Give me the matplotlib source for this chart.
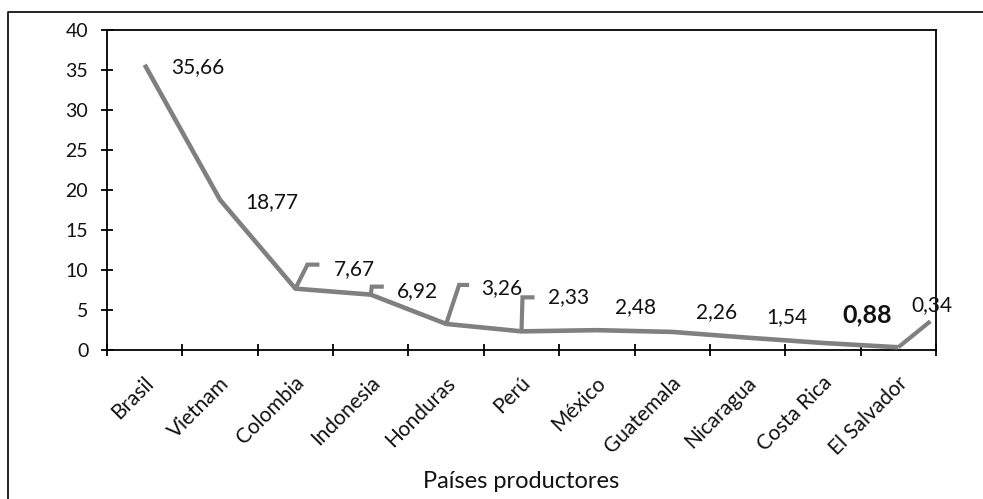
import matplotlib
matplotlib.use('Agg')
import matplotlib.pyplot as plt
import numpy as np
from matplotlib.lines import Line2D
from matplotlib.transforms import IdentityTransform

# ---- data ----
paises = ["Brasil", "Vietnam", "Colombia", "Indonesia", "Honduras", "Perú",
          "México", "Guatemala", "Nicaragua", "Costa Rica", "El Salvador"]
produccion = [35.66, 18.77, 7.67, 6.92, 3.26, 2.33, 2.48, 2.26, 1.54, 0.88, 0.34]
y_ticks = [0, 5, 10, 15, 20, 25, 30, 35, 40]
x_title = "Países productores"
destacado = "Costa Rica"

# ---- label placement (pixel offsets from each point: dx, dy up) ----
label_off = [(53, -2), (52, -2), (59, 20), (47, 4), (56, 36), (47, 34),
             (39, 23), (44, 20), (39, 21), (44, 28), (34, 42)]
leaders = {2: [(12, 24), (24, 24)],
           3: [(1, 8), (13, 8)],
           4: [(13, 39), (23, 39)],
           5: [(1, 34), (13, 34)],
           10: [(32, 26)]}

plt.rcParams['font.family'] = ['Lato', 'DejaVu Sans']
W, H = 983, 499
fig = plt.figure(figsize=(W / 100, H / 100), dpi=100)
ax = fig.add_axes([107 / W, 1 - 350 / H, (936 - 107) / W, 320 / H])

x = np.arange(len(paises))
ax.plot(x, produccion, color='#808080', lw=3.3, solid_joinstyle='round',
        solid_capstyle='butt', zorder=3)

ax.set_xlim(-0.5, len(paises) - 0.5)
ax.set_ylim(0, 40)
ax.set_yticks(y_ticks)
ax.set_yticklabels([str(t) for t in y_ticks], fontsize=14, color='#111111')
ax.set_xticks(np.arange(-0.5, len(paises), 1.0))
ax.set_xticklabels([])
ax.tick_params(axis='both', direction='inout', length=9, width=1.3, color='black')
ax.tick_params(axis='y', pad=9)
for s in ax.spines.values():
    s.set_linewidth(1.3)
    s.set_color('black')

# category labels
for i, name in enumerate(paises):
    ax.annotate(name, xy=(i, 0), xycoords='data', xytext=(6, -30),
                textcoords='offset pixels', rotation=45, ha='right', va='center',
                rotation_mode='anchor', fontsize=15, color='#111111')

fig.canvas.draw()

# data labels
for i, v in enumerate(produccion):
    txt = f"{v:.2f}".replace('.', ',')
    bold = paises[i] == destacado
    ax.annotate(txt, xy=(i, v), xycoords='data', xytext=label_off[i],
                textcoords='offset pixels', ha='center', va='center',
                fontsize=18 if bold else 15, fontweight='bold' if bold else 'normal',
                color='#111111', annotation_clip=False)

# leader lines
for i, segs in leaders.items():
    px, py = ax.transData.transform((i, produccion[i]))
    xs = [px] + [px + d[0] for d in segs]
    ys = [py] + [py + d[1] for d in segs]
    fig.add_artist(Line2D(xs, ys, transform=IdentityTransform(), color='#808080',
                          lw=3.0, solid_joinstyle='miter', solid_capstyle='butt'))

fig.text(521.5 / W, 1 - 481 / H, x_title, ha='center', va='center', fontsize=17,
         color='#111111')

# outer frame
fig.add_artist(Line2D([8 / W, 8 / W, 1.0], [0.0, 1 - 12 / H, 1 - 12 / H],
                      transform=fig.transFigure, color='black', lw=1.2))

fig.savefig('out.png', dpi=100)
